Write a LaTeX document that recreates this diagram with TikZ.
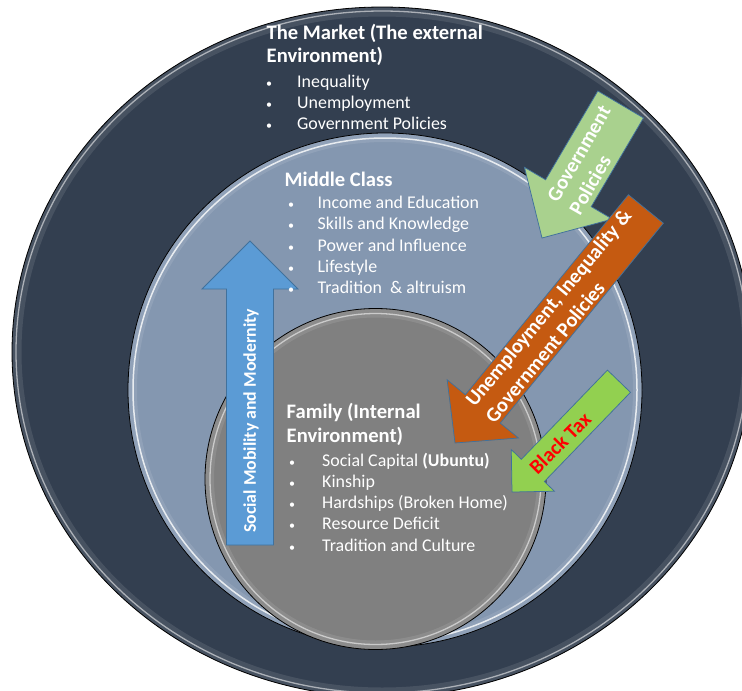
\documentclass[tikz,border=0pt]{standalone}
\usepackage{fontspec}
\setmainfont{Carlito}
\definecolor{outerc}{HTML}{333F50}
\definecolor{midc}{HTML}{8497B0}
\definecolor{innerc}{HTML}{808080}
\definecolor{bluea}{HTML}{5B9BD5}
\definecolor{greena}{HTML}{A9D18E}
\definecolor{orangea}{HTML}{C55A11}
\definecolor{greenb}{HTML}{92D050}
\definecolor{edgec}{HTML}{41719C}
\definecolor{redt}{HTML}{FF0000}
\tikzset{
  pics/fatarrow/.style n args={4}{code={
    \draw[pic actions] (0,0) -- (-#4,#3) -- (-#4,#2) -- (-#1,#2) -- (-#1,-#2) -- (-#4,-#2) -- (-#4,-#3) -- cycle;
  }},
  arrowbox/.style={draw=edgec, line width=0.75pt, line join=miter},
  txt/.style={inner sep=0pt, anchor=base west, text=white, font=\fontsize{17.9}{21}\selectfont},
  headtxt/.style={inner sep=0pt, anchor=base west, text=white, font=\bfseries\fontsize{20.6}{24}\selectfont},
  arrtxt/.style={inner sep=0pt, text=white, align=left, font=\bfseries\fontsize{20.5}{25.5}\selectfont},
  rimband/.style={white, opacity=0.10, line width=9pt},
  rimline/.style={white, opacity=0.55, line width=1.3pt},
  outline/.style={black, line width=0.8pt}
}
\newcommand{\bul}[1]{\makebox[#1][l]{\hspace*{2pt}{\fontsize{12}{12}\selectfont\textbullet}}}
\begin{document}
\begin{tikzpicture}[x=1pt,y=-1pt]
\useasboundingbox (0,0) rectangle (742,691);
\fill[white] (0,0) rectangle (742,691);
\begin{scope}
\clip (0,0) rectangle (742,691);
% outer ring: the market
\fill[outerc] (382,352) ellipse [x radius=370, y radius=345];
\draw[rimband] (382,352) ellipse [x radius=365, y radius=340];
\draw[rimline] (382,352) ellipse [x radius=366, y radius=341];
\draw[outline] (382,352) ellipse [x radius=370, y radius=345];
% middle class
\fill[midc] (385,390) circle [radius=257];
\draw[rimband] (385,390) circle [radius=252.5];
\draw[white, opacity=0.8, line width=1.5pt] (385,390) circle [radius=252];
\draw[outline] (385,390) circle [radius=257];
% family
\fill[innerc] (375.5,479) circle [radius=170.5];
\draw[rimband] (375.5,479) circle [radius=166];
\draw[rimline] (375.5,479) circle [radius=165.5];
\draw[outline] (375.5,479) circle [radius=170.5];
\end{scope}

% arrows
\pic[arrowbox, fill=bluea, rotate=90] at (250,241) {fatarrow={304}{23.5}{48}{48}};
\pic[arrowbox, fill=greena, rotate=239.5] at (542,238) {fatarrow={155}{26.5}{51}{52}};
\pic[arrowbox, fill=orangea, rotate=230.8] at (455,443) {fatarrow={302}{22.5}{46}{44}};
\pic[arrowbox, fill=greenb, rotate=226] at (512,492) {fatarrow={154}{16}{30}{30}};

% arrow texts
\node[arrtxt, rotate=90, font=\bfseries\fontsize{17.8}{22}\selectfont] (tblue) at (251,421) {Social Mobility and Modernity};
\node[arrtxt, rotate=60] (tgov) at (590,160) {Government\\Policies};
\node[arrtxt, rotate=50.5] (tora) at (558,316) {Unemployment, Inequality \&\\Government Policies};
\node[arrtxt, rotate=45, text=redt] (tbt) at (560,443) {Black Tax};

% market text
\node[headtxt] (mh1) at (266.5,39) {The Market (The external};
\node[headtxt] (mh2) at (266.5,62) {Environment)};
\node[txt] (mb1) at (264,87) {\bul{33pt}Inequality};
\node[txt] (mb2) at (264,108) {\bul{33pt}Unemployment};
\node[txt] (mb3) at (264,129) {\bul{33pt}Government Policies};

% middle class text
\node[headtxt] (ch1) at (284.5,186) {Middle Class};
\node[txt] (cb1) at (286,208.5) {\bul{31.5pt}Income and Education};
\node[txt] (cb2) at (286,229.8) {\bul{31.5pt}Skills and Knowledge};
\node[txt] (cb3) at (286,251.1) {\bul{31.5pt}Power and Influence};
\node[txt] (cb4) at (286,272.4) {\bul{31.5pt}Lifestyle};
\node[txt] (cb5) at (286,293.7) {\bul{31.5pt}Tradition~ \& altruism};

% family text
\node[headtxt] (fh1) at (286.5,418) {Family (Internal};
\node[headtxt] (fh2) at (286.5,442) {Environment)};
\node[txt] (fb1) at (287,466) {\bul{35pt}Social Capital \textbf{(Ubuntu)}};
\node[txt] (fb2) at (287,487.3) {\bul{35pt}Kinship};
\node[txt] (fb3) at (287,508.5) {\bul{35pt}Hardships (Broken Home)};
\node[txt] (fb4) at (287,529.8) {\bul{35pt}Resource Deficit};
\node[txt] (fb5) at (287,551) {\bul{35pt}Tradition and Culture};
\end{tikzpicture}
\end{document}
